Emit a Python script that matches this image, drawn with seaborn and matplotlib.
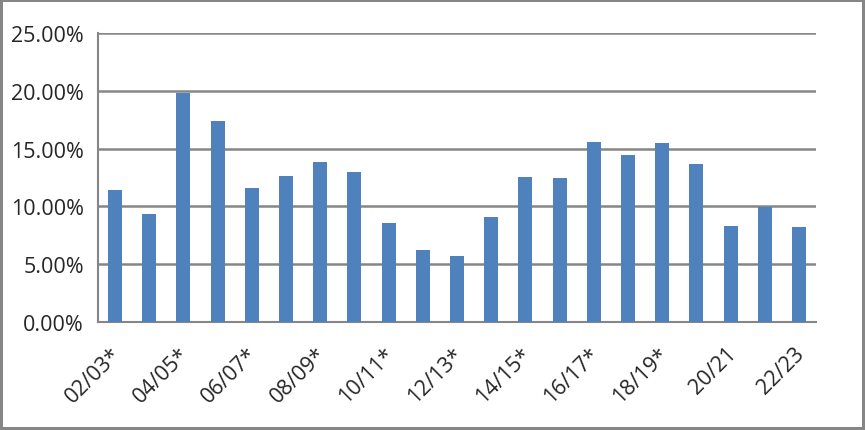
import matplotlib
matplotlib.use("Agg")
import matplotlib.pyplot as plt
import matplotlib.ticker as mticker
from matplotlib.transforms import ScaledTranslation
import seaborn as sns
import pandas as pd

seasons = [
    "02/03*", "03/04", "04/05*", "05/06", "06/07*", "07/08", "08/09*",
    "09/10", "10/11*", "11/12", "12/13*", "13/14", "14/15*", "15/16",
    "16/17*", "17/18", "18/19*", "19/20", "20/21", "21/22", "22/23"
]
rates = [
    11.42, 9.35, 19.79, 17.38, 11.59, 12.63, 13.84, 12.97, 8.57, 6.24,
    5.72, 9.09, 12.54, 12.46, 15.56, 14.44, 15.48, 13.67, 8.31, 9.98, 8.23
]

df = pd.DataFrame({"season": seasons, "rate": rates})

sns.set_style("white")
plt.rcParams["font.family"] = ["Open Sans", "DejaVu Sans"]

grey = "#868686"

fig = plt.figure(figsize=(8.65, 4.31), dpi=100)
ax = fig.add_axes([98 / 865, (431 - 323) / 431, (816 - 98) / 865, (323 - 34) / 431])

sns.barplot(data=df, x="season", y="rate", color="#4F81BD", width=0.41,
            saturation=1, linewidth=0, ax=ax, zorder=3)

ax.set_ylim(0, 25)
ax.set_xlim(-0.5, len(seasons) - 0.5)
ax.yaxis.set_major_locator(mticker.MultipleLocator(5))
ax.yaxis.set_major_formatter(mticker.FuncFormatter(lambda v, p: f"{v:.2f}%"))
ax.grid(axis="y", color=grey, linewidth=1.8, zorder=0)
ax.set_axisbelow(True)

# labels on every other season, tick marks on category edges
ax.set_xticks(range(0, len(seasons), 2))
ax.set_xticklabels(seasons[::2], rotation=45, ha="right", rotation_mode="anchor")
ax.set_xticks([i - 0.5 for i in range(len(seasons) + 1)], minor=True)
ax.tick_params(axis="x", which="major", length=0, pad=15, labelsize=15.5)
ax.tick_params(axis="x", which="minor", length=5, width=1.5, color=grey, direction="out")
ax.tick_params(axis="y", length=8, width=1.5, color=grey, labelsize=15.5, pad=2)
shift = ScaledTranslation(-5 / 100, 0, fig.dpi_scale_trans)
for lab in ax.get_xticklabels():
    lab.set_transform(lab.get_transform() + shift)

ax.set_xlabel("")
ax.set_ylabel("")
for s in ["top", "right"]:
    ax.spines[s].set_visible(False)
for s in ["left", "bottom"]:
    ax.spines[s].set_color(grey)
    ax.spines[s].set_linewidth(1.5)

fig.patch.set_edgecolor(grey)
fig.patch.set_linewidth(3)

fig.savefig("out.png", dpi=100)
